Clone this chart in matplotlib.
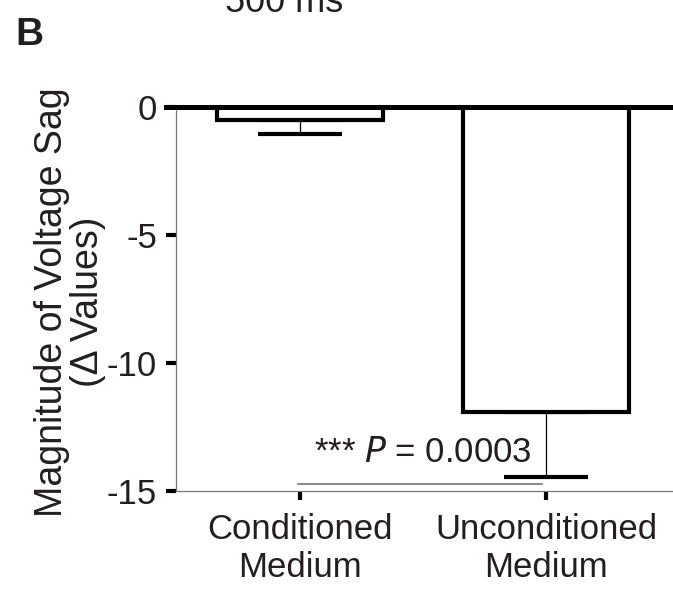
import numpy as np
import matplotlib.pyplot as plt

plt.rcParams['font.family'] = ['Liberation Sans', 'DejaVu Sans']

# group means and SEM of the sag magnitude
groups = ['Conditioned\nMedium', 'Unconditioned\nMedium']
sag_mean = [-0.5, -11.9]
sag_sem = [0.55, 2.55]
yticks = [0, -5, -10, -15]
p_text = '*** $\\it{P}$ = 0.0003'

ink = '#231f20'
fs = 25

fig = plt.figure(figsize=(6.73, 5.91), dpi=100)
ax = fig.add_axes([176/673, 1 - 491/591, 497/673, 384/591])

x = np.arange(len(groups))
ax.bar(x, sag_mean, width=0.675, color='white', edgecolor='black', linewidth=3, zorder=2)
ax.errorbar(x, sag_mean, yerr=[sag_sem, [0, 0]], fmt='none', ecolor='black',
            elinewidth=0.9, capsize=30, capthick=3, zorder=1)

# thick zero line reaching past the y axis
ax.axhline(0, xmin=-0.02, xmax=1, color='black', linewidth=3.6, clip_on=False, zorder=3)

# significance bar and label
ax.plot([-0.008, 0.984], [-14.73, -14.73], color='#777777', linewidth=1.2, zorder=1)
ax.text(0.5, -13.5, p_text, ha='center', va='center', fontsize=25, color=ink)

ax.set_xlim(-0.504, 1.516)
ax.set_ylim(-15, 0)
ax.set_yticks(yticks)
ax.set_yticklabels([str(v) for v in yticks], fontsize=fs, color=ink)
ax.set_xticks(x)
ax.set_xticklabels(groups, fontsize=fs, color=ink, linespacing=1.2)

for side in ['top', 'right']:
    ax.spines[side].set_visible(False)
for side in ['left', 'bottom']:
    ax.spines[side].set_color('#777777')
    ax.spines[side].set_linewidth(0.9)

ax.tick_params(axis='y', length=7.5, width=3, color='black', pad=6)
ax.tick_params(axis='x', length=6.5, width=3, color='black', pad=9)

fig.text(70/673, 1 - 302/591, 'Magnitude of Voltage Sag\n(\u0394 Values)', rotation=90,
         ha='center', va='center', multialignment='center', fontsize=27, color=ink,
         linespacing=1.0)
fig.text(15/673, 1 - 45/591, 'B', fontsize=28, fontweight='bold', color=ink, va='baseline')
fig.text(284/673, 1 - 12/591, '500 ms', fontsize=26, color=ink, ha='center', va='baseline')

fig.savefig('out.png', dpi=100)
